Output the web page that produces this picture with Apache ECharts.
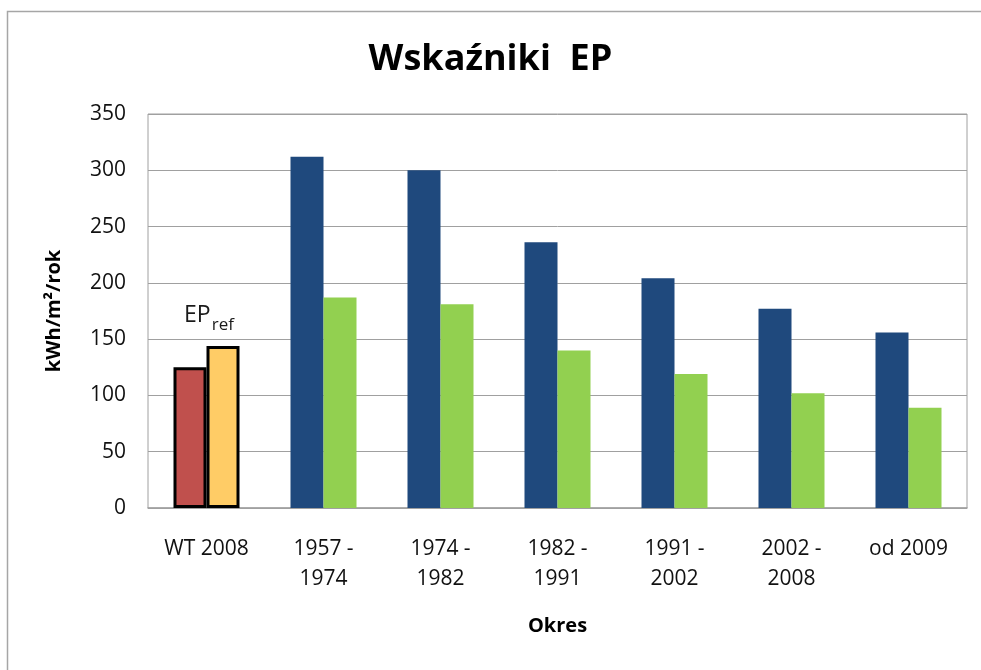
<!DOCTYPE html>
<html>
<head>
<meta charset="utf-8">
<script src="https://cdn.jsdelivr.net/npm/echarts@6/dist/echarts.min.js"></script>
<style>
  html, body { margin: 0; padding: 0; background: #ffffff; }
  #chart { width: 981px; height: 670px; }
</style>
</head>
<body>
<div id="chart"></div>
<script>
// Okresy budowy budynków
const categories = ['WT 2008', '1957 -\n1974', '1974 -\n1982', '1982 -\n1991', '1991 -\n2002', '2002 -\n2008', 'od 2009'];
// Pierwsza kolumna w każdej grupie (WT 2008: czerwona, pozostałe: granatowe)
const firstValues = [125, 312, 300, 236, 204, 177, 156];
// Druga kolumna w każdej grupie (WT 2008: EP ref, pozostałe: zielone)
const secondValues = [144, 187, 181, 140, 119, 102, 89];
const yTicks = [0, 50, 100, 150, 200, 250, 300, 350];

const FONT = '"Open Sans", sans-serif';
const BLUE = '#1F497D', GREEN = '#92D050', RED = '#C0504D', AMBER = '#FFCC66';

function buildFirst() {
  return firstValues.map((v, i) => i === 0
    ? { value: v, itemStyle: { color: RED, borderColor: '#000', borderWidth: 3 } }
    : { value: v });
}
function buildSecond() {
  return secondValues.map((v, i) => i === 0
    ? {
        value: v,
        itemStyle: { color: AMBER, borderColor: '#000', borderWidth: 3 },
        label: {
          show: true, position: 'top', offset: [-14, -14],
          formatter: '{a|EP}{b|ref}',
          rich: {
            a: { fontFamily: FONT, fontSize: 23, color: '#1a1a1a', verticalAlign: 'bottom' },
            b: { fontFamily: FONT, fontSize: 17, color: '#1a1a1a', verticalAlign: 'bottom', padding: [0, 0, -7, 1] }
          }
        }
      }
    : { value: v });
}

const chart = echarts.init(document.getElementById('chart'), null, { renderer: 'canvas' });
chart.setOption({
  backgroundColor: '#ffffff',
  animation: false,
  title: {
    text: 'Wskaźniki  EP',
    left: 'center', top: 37,
    textStyle: { fontFamily: FONT, fontSize: 36, fontWeight: 'bold', color: '#000' }
  },
  graphic: [{
    type: 'rect', silent: true,
    shape: { x: 7.5, y: 11.5, width: 1000, height: 700 },
    style: { fill: 'none', stroke: '#a6a6a6', lineWidth: 1.5 }
  }],
  grid: {
    left: 148, right: 14, top: 114, bottom: 162,
    show: true, borderColor: '#a0a0a0', borderWidth: 1, backgroundColor: 'transparent'
  },
  xAxis: {
    type: 'category',
    data: categories,
    name: 'Okres',
    nameLocation: 'middle',
    nameGap: 108,
    nameTextStyle: { fontFamily: FONT, fontSize: 20, fontWeight: 'bold', color: '#000' },
    axisLine: { lineStyle: { color: '#a0a0a0', width: 1.5 } },
    axisTick: { show: false },
    axisLabel: { fontFamily: FONT, fontSize: 21, color: '#111', margin: 26, lineHeight: 30, interval: 0 }
  },
  yAxis: {
    type: 'value',
    min: yTicks[0], max: yTicks[yTicks.length - 1], interval: 50,
    name: 'kWh/m²/rok',
    nameLocation: 'middle',
    nameGap: 84,
    nameTextStyle: { fontFamily: FONT, fontSize: 20, fontWeight: 'bold', color: '#000' },
    axisLine: { show: false },
    axisTick: { show: false },
    axisLabel: { fontFamily: FONT, fontSize: 21, color: '#111', margin: 22 },
    splitLine: { lineStyle: { color: '#a0a0a0', width: 1 } }
  },
  series: [
    {
      type: 'bar', data: buildFirst(), barWidth: 33, barGap: '0%',
      itemStyle: { color: BLUE }
    },
    {
      type: 'bar', data: buildSecond(), barWidth: 33, barGap: '0%',
      itemStyle: { color: GREEN }
    }
  ]
});
</script>
</body>
</html>
